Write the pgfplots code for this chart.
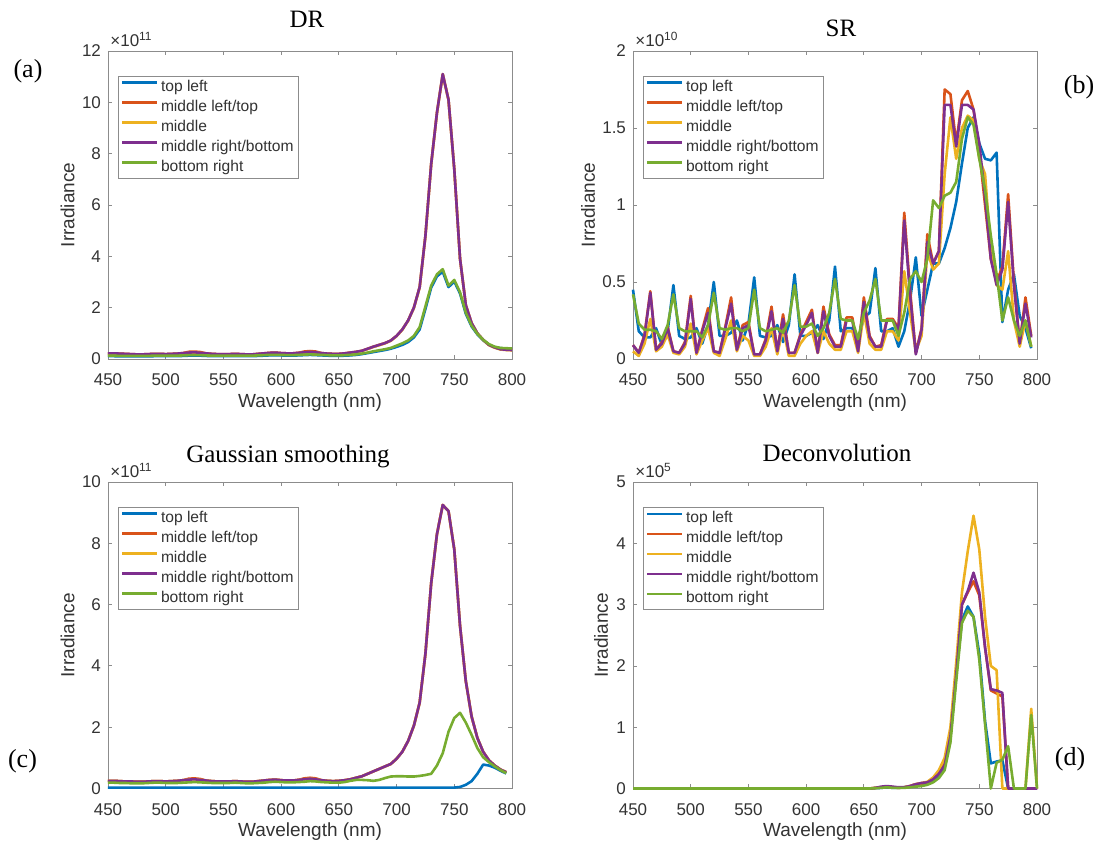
\documentclass[border=0pt]{standalone}
\usepackage{fontspec}
\setmainfont{Liberation Sans}
\newfontfamily\timesfont{Liberation Serif}
\usepackage{pgfplots}
\usepackage{pgfplotstable}
\pgfplotsset{compat=1.18}
\definecolor{c1}{rgb}{0,0.447,0.741}
\definecolor{c2}{rgb}{0.850,0.325,0.098}
\definecolor{c3}{rgb}{0.929,0.694,0.125}
\definecolor{c4}{rgb}{0.494,0.184,0.556}
\definecolor{c5}{rgb}{0.466,0.674,0.188}
\definecolor{axgray}{rgb}{0.55,0.55,0.55}
\definecolor{txtgray}{rgb}{0.2,0.2,0.2}

\pgfplotstableread{
x tl mlt mid mrb br
450 .11 .22 .21 .22 .13
455 .11 .22 .21 .22 .13
460 .10 .21 .20 .21 .12
465 .10 .20 .19 .20 .12
470 .10 .19 .18 .19 .12
475 .10 .18 .17 .18 .12
480 .10 .18 .17 .18 .12
485 .10 .19 .18 .19 .12
490 .11 .20 .19 .20 .13
495 .11 .20 .19 .20 .13
500 .11 .19 .18 .19 .13
505 .11 .20 .19 .20 .13
510 .11 .21 .20 .21 .13
515 .12 .23 .22 .23 .14
520 .13 .28 .24 .25 .15
525 .13 .29 .25 .26 .15
530 .13 .27 .23 .24 .15
535 .12 .22 .21 .22 .14
540 .11 .20 .19 .20 .13
545 .11 .19 .18 .19 .13
550 .11 .19 .18 .19 .13
555 .11 .19 .18 .19 .13
560 .11 .20 .19 .20 .13
565 .11 .19 .18 .19 .13
570 .11 .18 .17 .18 .13
575 .11 .18 .17 .18 .13
580 .12 .20 .19 .20 .14
585 .13 .22 .21 .22 .15
590 .14 .24 .23 .24 .16
595 .14 .25 .24 .25 .16
600 .14 .23 .22 .23 .16
605 .13 .22 .21 .22 .15
610 .13 .22 .21 .22 .15
615 .14 .24 .23 .24 .16
620 .15 .29 .25 .26 .17
625 .16 .31 .27 .28 .18
630 .15 .29 .25 .26 .17
635 .14 .23 .22 .23 .16
640 .13 .21 .20 .21 .15
645 .12 .20 .19 .20 .14
650 .12 .20 .19 .20 .14
655 .13 .22 .21 .22 .15
660 .14 .25 .24 .25 .16
665 .16 .28 .27 .28 .18
670 .19 .32 .31 .32 .21
675 .23 .40 .39 .40 .25
680 .27 .48 .47 .48 .30
685 .31 .55 .54 .55 .34
690 .35 .62 .61 .62 .38
695 .40 .72 .71 .72 .43
700 .47 .90 .89 .90 .52
705 .55 1.15 1.14 1.15 .61
710 .66 1.50 1.49 1.50 .72
715 .84 2.00 1.99 2.00 .90
720 1.15 2.80 2.79 2.80 1.24
725 1.95 4.80 4.79 4.80 2.05
730 2.78 7.60 7.59 7.60 2.86
735 3.22 9.60 9.59 9.60 3.30
740 3.40 11.10 11.09 11.10 3.50
745 2.80 10.10 10.09 10.10 2.86
750 3.02 7.40 7.39 7.40 3.08
755 2.55 3.90 3.89 3.90 2.60
760 1.76 2.10 2.09 2.10 1.80
765 1.27 1.40 1.39 1.40 1.30
770 .96 1.00 .99 1.00 .98
775 .73 .75 .74 .75 .75
780 .56 .55 .54 .55 .58
785 .46 .45 .44 .45 .48
790 .42 .38 .37 .38 .43
795 .41 .36 .35 .36 .42
800 .40 .35 .34 .35 .41
}\tabA

\pgfplotstableread{
x tl mlt mid mrb br
450 0.45 0.09 0.05 0.09 0.42
455 0.18 0.04 0.02 0.04 0.23
460 0.14 0.16 0.10 0.15 0.19
465 0.14 0.44 0.26 0.43 0.19
470 0.20 0.06 0.05 0.06 0.18
475 0.09 0.11 0.08 0.10 0.13
480 0.18 0.21 0.16 0.20 0.22
485 0.48 0.05 0.04 0.05 0.42
490 0.15 0.04 0.03 0.04 0.20
495 0.13 0.11 0.08 0.10 0.18
500 0.14 0.41 0.23 0.39 0.18
505 0.20 0.04 0.03 0.04 0.18
510 0.10 0.19 0.12 0.18 0.14
515 0.22 0.33 0.20 0.30 0.22
520 0.50 0.05 0.04 0.05 0.43
525 0.15 0.04 0.02 0.04 0.20
530 0.15 0.21 0.13 0.20 0.19
535 0.17 0.40 0.25 0.36 0.20
540 0.25 0.06 0.05 0.06 0.20
545 0.12 0.22 0.15 0.20 0.18
550 0.23 0.24 0.12 0.22 0.20
555 0.53 0.03 0.02 0.03 0.45
560 0.15 0.03 0.02 0.03 0.20
565 0.14 0.13 0.08 0.12 0.18
570 0.15 0.34 0.20 0.31 0.19
575 0.22 0.05 0.03 0.05 0.20
580 0.11 0.29 0.20 0.26 0.17
585 0.22 0.04 0.02 0.04 0.25
590 0.55 0.04 0.02 0.04 0.48
595 0.15 0.16 0.10 0.15 0.21
600 0.15 0.24 0.15 0.22 0.21
605 0.17 0.32 0.18 0.30 0.23
610 0.22 0.04 0.04 0.04 0.15
615 0.13 0.34 0.18 0.31 0.20
620 0.25 0.16 0.10 0.15 0.30
625 0.60 0.09 0.06 0.08 0.52
630 0.18 0.09 0.06 0.08 0.26
635 0.20 0.27 0.18 0.25 0.25
640 0.20 0.27 0.18 0.25 0.25
645 0.12 0.05 0.04 0.05 0.13
650 0.27 0.40 0.30 0.37 0.30
655 0.30 0.15 0.10 0.14 0.38
660 0.59 0.08 0.06 0.08 0.52
665 0.18 0.09 0.06 0.08 0.25
670 0.18 0.26 0.18 0.25 0.25
675 0.20 0.26 0.18 0.25 0.25
680 0.08 0.20 0.12 0.19 0.15
685 0.18 0.95 0.57 0.90 0.30
690 0.38 0.45 0.30 0.42 0.52
695 0.66 0.04 0.05 0.03 0.57
700 0.28 0.20 0.15 0.19 0.50
705 0.45 0.81 0.70 0.76 0.65
710 0.62 0.62 0.58 0.62 1.03
715 0.62 0.70 0.62 0.70 0.98
720 0.72 1.75 1.20 1.65 1.06
725 0.85 1.72 1.57 1.65 1.08
730 1.02 1.40 1.30 1.38 1.15
735 1.27 1.68 1.50 1.65 1.43
740 1.50 1.74 1.58 1.65 1.57
745 1.57 1.62 1.55 1.62 1.52
750 1.40 1.35 1.30 1.40 1.30
755 1.30 1.00 1.20 1.05 1.10
760 1.29 0.65 0.70 0.65 0.80
765 1.34 0.50 0.48 0.48 0.55
770 0.24 0.60 0.45 0.58 0.25
775 0.45 1.07 0.70 1.02 0.40
780 0.55 0.50 0.25 0.48 0.25
785 0.28 0.10 0.08 0.10 0.15
790 0.20 0.40 0.25 0.36 0.25
795 0.07 0.15 0.08 0.14 0.08
}\tabB

\pgfplotstableread{
x tl mlt mid mrb br
450 .03 .25 .25 .25 .19
455 .03 .25 .25 .25 .19
460 .03 .24 .24 .24 .18
465 .03 .23 .23 .23 .18
470 .03 .23 .23 .23 .17
475 .03 .22 .22 .22 .17
480 .03 .22 .22 .22 .17
485 .03 .23 .23 .23 .18
490 .03 .24 .24 .24 .19
495 .03 .24 .24 .24 .19
500 .03 .23 .23 .23 .18
505 .03 .24 .24 .24 .18
510 .03 .25 .25 .25 .18
515 .03 .27 .27 .27 .19
520 .03 .32 .29 .29 .20
525 .03 .33 .30 .30 .21
530 .03 .31 .28 .28 .20
535 .03 .26 .26 .26 .19
540 .03 .24 .24 .24 .18
545 .03 .23 .23 .23 .18
550 .03 .23 .23 .23 .18
555 .03 .23 .23 .23 .18
560 .03 .24 .24 .24 .19
565 .03 .23 .23 .23 .18
570 .03 .22 .22 .22 .17
575 .03 .22 .22 .22 .17
580 .03 .24 .24 .24 .18
585 .03 .26 .26 .26 .19
590 .03 .28 .28 .28 .21
595 .03 .29 .29 .29 .22
600 .03 .27 .27 .27 .21
605 .03 .26 .26 .26 .20
610 .03 .26 .26 .26 .20
615 .03 .28 .28 .28 .21
620 .03 .33 .30 .30 .22
625 .03 .35 .32 .32 .24
630 .03 .33 .30 .30 .23
635 .03 .27 .27 .27 .21
640 .03 .25 .25 .25 .20
645 .03 .24 .24 .24 .19
650 .03 .25 .25 .25 .19
655 .03 .27 .27 .27 .21
660 .03 .30 .30 .30 .25
665 .03 .35 .35 .35 .28
670 .03 .40 .40 .40 .28
675 .03 .48 .48 .48 .27
680 .03 .56 .56 .56 .25
685 .03 .64 .64 .64 .28
690 .03 .72 .72 .72 .34
695 .03 .80 .80 .80 .39
700 .03 .97 .97 .97 .40
705 .03 1.20 1.20 1.20 .40
710 .03 1.55 1.55 1.55 .39
715 .03 2.05 2.05 2.05 .39
720 .03 2.80 2.80 2.80 .41
725 .03 4.40 4.40 4.40 .44
730 .03 6.70 6.70 6.70 .48
735 .03 8.30 8.30 8.30 .75
740 .03 9.25 9.25 9.25 1.15
745 .03 9.05 9.05 9.05 1.85
750 .03 7.80 7.80 7.80 2.30
755 .05 5.30 5.30 5.30 2.47
760 .12 3.50 3.50 3.50 2.15
765 .24 2.35 2.35 2.35 1.75
770 .48 1.65 1.65 1.65 1.32
775 .78 1.20 1.20 1.20 1.02
780 .75 .92 .92 .92 .86
785 .68 .75 .75 .75 .72
790 .58 .62 .62 .62 .60
795 .49 .53 .53 .53 .50
}\tabC

\pgfplotstableread{
x tl mlt mid mrb br
450 0 0 0 0 0
500 0 0 0 0 0
550 0 0 0 0 0
600 0 0 0 0 0
650 0 0 0 0 0
655 0 0 0 0 0
660 .005 .01 .01 .01 .005
665 .01 .02 .02 .03 .01
670 .02 .03 .03 .04 .02
675 .01 .02 .02 .03 .01
680 .01 .01 .01 .02 .01
685 .02 .02 .02 .02 .01
690 .03 .04 .04 .04 .02
695 .05 .07 .07 .07 .03
700 .06 .08 .09 .09 .04
705 .08 .10 .11 .10 .06
710 .12 .16 .18 .15 .10
715 .20 .25 .30 .24 .17
720 .35 .40 .50 .38 .30
725 .85 .90 1.00 .85 .75
730 1.85 1.90 2.05 1.85 1.75
735 2.75 3.00 3.20 3.00 2.70
740 2.97 3.20 3.87 3.22 2.90
745 2.80 3.38 4.45 3.52 2.80
750 2.20 3.15 3.90 3.20 2.10
755 1.10 2.30 2.80 2.30 1.05
760 .41 1.60 2.00 1.62 0
765 .44 1.55 1.93 1.60 .42
770 .46 1.50 0 1.56 .47
775 0 0 0 0 .69
780 0 0 0 0 0
785 0 0 0 0 0
790 0 0 0 0 0
795 0 0 1.30 0 1.20
800 0 0 0 0 0
}\tabD

\tikzset{expnode/.style={anchor=south west, inner sep=0pt, font=\fontsize{8.5}{10}\selectfont, text=txtgray}}

\pgfplotsset{
  myax/.style={
    scale only axis, width=202pt, anchor=south west,
    xmin=450, xmax=800, xtick={450,500,...,800},
    clip=false, no markers,
    axis line style={draw=axgray, line width=0.4pt},
    every tick/.style={draw=axgray, line width=0.4pt},
    tick align=inside, major tick length=2pt,
    ticklabel style={font=\fontsize{8.5}{10}\selectfont, text=txtgray},
    xticklabel style={yshift=-4pt},
    /pgf/number format/assume math mode=true,
    scaled y ticks=false, scaled x ticks=false,
    xlabel={Wavelength (nm)}, ylabel={Irradiance},
    label style={font=\fontsize{9.5}{11}\selectfont, text=txtgray},
    xlabel style={at={([yshift=-21.75pt]axis description cs:0.5,0)}, anchor=center},
    legend style={at={([xshift=5pt,yshift=-12.5pt]axis description cs:0,1)}, anchor=north west,
      draw=axgray, line width=0.4pt, font=\fontsize{7.8}{9}\selectfont, text=txtgray,
      inner xsep=1.25pt, inner ysep=0.5pt, row sep=0pt,
      nodes={inner xsep=1.25pt, inner ysep=1.1pt, text height=6pt, text depth=1.8pt}},
    legend cell align=left,
    legend image code/.code={\draw[#1] (0pt,2.3pt) -- (17.5pt,2.3pt);},
    every axis plot/.append style={line width=1.3pt, line join=round},
  },
}

\newcommand{\fiveplots}[1]{%
  \addplot[c1] table[x=x,y=tl]{#1}; \addlegendentry{top left}
  \addplot[c2] table[x=x,y=mlt]{#1}; \addlegendentry{middle left/top}
  \addplot[c3] table[x=x,y=mid]{#1}; \addlegendentry{middle}
  \addplot[c4] table[x=x,y=mrb]{#1}; \addlegendentry{middle right/bottom}
  \addplot[c5] table[x=x,y=br]{#1}; \addlegendentry{bottom right}
}

\begin{document}
\begin{tikzpicture}
\useasboundingbox (0,0) rectangle (549pt,423pt);

% (a) DR
\begin{axis}[myax, at={(54pt,243.5pt)}, height=154pt,
  ymin=0, ymax=12, ytick={0,2,...,12},
  ylabel style={at={([xshift=-20.25pt]axis description cs:0,0.5)}, anchor=center}]
\fiveplots{\tabA}
\node[expnode] at ([xshift=1pt,yshift=2pt]axis description cs:0,1) {×10\textsuperscript{11}};
\end{axis}

% (b) SR
\begin{axis}[myax, at={(316.5pt,243.5pt)}, height=154pt,
  ymin=0, ymax=2, ytick={0,0.5,1,1.5,2},
  ylabel style={at={([xshift=-22.5pt]axis description cs:0,0.5)}, anchor=center}]
\fiveplots{\tabB}
\node[expnode] at ([xshift=1pt,yshift=2pt]axis description cs:0,1) {×10\textsuperscript{10}};
\end{axis}

% (c) Gaussian smoothing
\begin{axis}[myax, at={(54pt,28.75pt)}, height=153.25pt,
  ymin=0, ymax=10, ytick={0,2,...,10},
  ylabel style={at={([xshift=-20.25pt]axis description cs:0,0.5)}, anchor=center}]
\fiveplots{\tabC}
\node[expnode] at ([xshift=1pt,yshift=2pt]axis description cs:0,1) {×10\textsuperscript{11}};
\end{axis}

% (d) Deconvolution
\begin{axis}[myax, at={(316.5pt,28.75pt)}, height=153.25pt,
  ymin=0, ymax=5, ytick={0,1,...,5},
  ylabel style={at={([xshift=-16pt]axis description cs:0,0.5)}, anchor=center}]
\fiveplots{\tabD}
\node[expnode] at ([xshift=1pt,yshift=2pt]axis description cs:0,1) {×10\textsuperscript{5}};
\end{axis}

\begin{scope}[every node/.style={font=\timesfont\fontsize{12.5}{14}\selectfont, anchor=base, inner sep=0pt}]
\node at (153.5pt,409pt) {DR};
\node at (420.5pt,404.7pt) {SR};
\node at (144pt,191.7pt) {Gaussian smoothing};
\node at (418.5pt,192pt) {Deconvolution};
\node[font=\timesfont\fontsize{13}{15}\selectfont] at (14pt,384pt) {(a)};
\node[font=\timesfont\fontsize{13}{15}\selectfont] at (539.5pt,376pt) {(b)};
\node[font=\timesfont\fontsize{13}{15}\selectfont] at (11.25pt,39pt) {(c)};
\node[font=\timesfont\fontsize{13}{15}\selectfont] at (535pt,40pt) {(d)};
\end{scope}
\end{tikzpicture}
\end{document}
